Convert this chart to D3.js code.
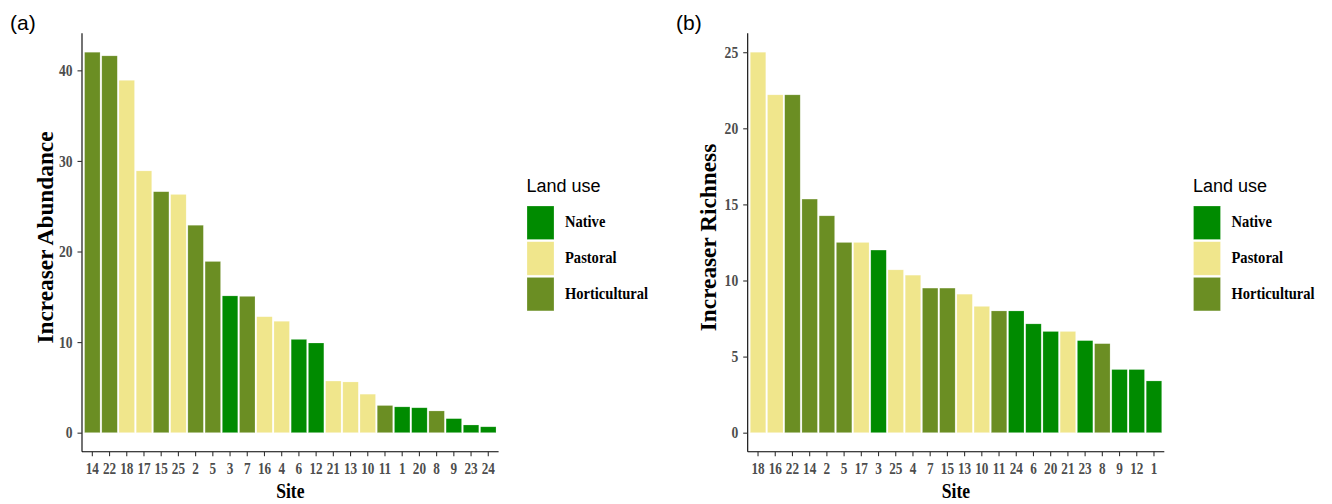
<!DOCTYPE html>
<html>
<head>
<meta charset="utf-8">
<script src="https://cdn.jsdelivr.net/npm/d3@7"></script>
<style>
  html, body { margin: 0; padding: 0; background: #fff; }
  svg { display: block; }
</style>
</head>
<body>
<svg id="chart" width="1332" height="504"></svg>
<script>
// Land use of each sampling site
const siteIds     = ["1","2","3","4","5","6","7","8","9","10","11","12","13","14","15","16","17","18","20","21","22","23","24","25"];
const siteLandUse = ["Native","Horticultural","Native","Pastoral","Horticultural","Native","Horticultural","Horticultural","Native","Pastoral","Horticultural","Native","Pastoral","Horticultural","Horticultural","Pastoral","Pastoral","Pastoral","Native","Pastoral","Horticultural","Native","Native","Pastoral"];

// Panel (a): increaser abundance, sites sorted by value
const sitesA    = ["14","22","18","17","15","25","2","5","3","7","16","4","6","12","21","13","10","11","1","20","8","9","23","24"];
const abundance = [42.0, 41.6, 38.9, 28.9, 26.6, 26.3, 22.9, 18.9, 15.1, 15.05, 12.8, 12.3, 10.3, 9.9, 5.7, 5.6, 4.25, 3.0, 2.85, 2.75, 2.4, 1.55, 0.85, 0.65];
const ticksA    = [0, 10, 20, 30, 40];

// Panel (b): increaser richness, sites sorted by value
const sitesB    = ["18","16","22","14","2","5","17","3","25","4","7","15","13","10","11","24","6","20","21","23","8","9","12","1"];
const richness  = [25.0, 22.2, 22.2, 15.35, 14.25, 12.5, 12.5, 12.0, 10.7, 10.35, 9.5, 9.5, 9.1, 8.3, 8.0, 8.0, 7.15, 6.65, 6.65, 6.05, 5.85, 4.15, 4.15, 3.4];
const ticksB    = [0, 5, 10, 15, 20, 25];

const landUses  = ["Native", "Pastoral", "Horticultural"];
const landColors = ["#008B00", "#F0E68C", "#6B8E23"];

const landOf = new Map(siteIds.map((s, i) => [s, siteLandUse[i]]));
const color = d3.scaleOrdinal().domain(landUses).range(landColors);

const svg = d3.select("#chart");
const SERIF = "'Liberation Serif', 'Times New Roman', serif";
const SANS = "'Liberation Sans', Arial, sans-serif";

// bold serif label, optionally condensed horizontally and rotated
function serifText(g, x, y, str, opts) {
  const sx = opts.sx == null ? 0.8 : opts.sx;
  return g.append("text")
    .attr("transform", `translate(${x},${y}) scale(${sx},1)` + (opts.rotate ? ` rotate(${opts.rotate})` : ""))
    .attr("font-family", SERIF)
    .attr("font-weight", "bold")
    .attr("font-size", opts.size)
    .attr("fill", opts.fill || "#000")
    .attr("text-anchor", opts.anchor || "start")
    .text(str);
}

function drawPanel(cfg) {
  const { left, right, top, bottom, sites, values, ticks, yTitle, tag, tagX, legendX } = cfg;
  const g = svg.append("g");
  const maxV = d3.max(values);
  const pad = maxV * 0.05;

  const x = d3.scaleBand().domain(sites).range([left, right]).paddingInner(0.1).paddingOuter(0.15);
  const y = d3.scaleLinear().domain([-pad, maxV + pad]).range([bottom, top]);

  // bars
  g.selectAll("rect.bar").data(sites).join("rect")
    .attr("class", "bar")
    .attr("x", d => x(d))
    .attr("width", x.bandwidth())
    .attr("y", (d, i) => y(values[i]))
    .attr("height", (d, i) => y(0) - y(values[i]))
    .attr("fill", d => color(landOf.get(d)))
    .attr("stroke", "#ffffff")
    .attr("stroke-opacity", 0.35)
    .attr("stroke-width", 0.6);

  // y axis
  const yAxis = g.append("g").attr("transform", `translate(${left},0)`)
    .call(d3.axisLeft(y).tickValues(ticks).tickSize(4.5).tickFormat(""));
  yAxis.select(".domain").attr("stroke", "#000").attr("stroke-width", 1.1)
    .attr("d", `M0,${top}V${bottom}`);
  yAxis.selectAll(".tick line").attr("stroke", "#333").attr("stroke-width", 1.1);
  ticks.forEach(t => serifText(g, left - 9.5, y(t) + 5.8, String(t), { size: 17, fill: "#4D4D4D", anchor: "end" }));

  // x axis
  const xAxis = g.append("g").attr("transform", `translate(0,${bottom})`)
    .call(d3.axisBottom(x).tickSize(4.5).tickFormat(""));
  xAxis.select(".domain").attr("stroke", "#000").attr("stroke-width", 1.1)
    .attr("d", `M${left},0H${right}`);
  xAxis.selectAll(".tick line").attr("stroke", "#333").attr("stroke-width", 1.1);
  sites.forEach(s => serifText(g, x(s) + x.bandwidth() / 2, bottom + 22.2, s, { size: 16.5, fill: "#4D4D4D", anchor: "middle" }));

  // axis titles
  serifText(g, (left + right) / 2, 498, "Site", { size: 22, anchor: "middle" });
  serifText(g, cfg.yTitleX, 237.5, yTitle, { size: 23.3, anchor: "middle", rotate: -90, sx: 1 });

  // panel tag
  g.append("text").attr("x", tagX).attr("y", 30)
    .attr("font-family", SANS).attr("font-size", 21).attr("fill", "#000").text(tag);

  // legend
  const lg = g.append("g").attr("transform", `translate(${legendX},0)`);
  lg.append("text").attr("x", 0).attr("y", 191.5)
    .attr("font-family", SANS).attr("font-size", 18).attr("fill", "#000").text("Land use");
  landUses.forEach((lu, i) => {
    const ky = 206 + i * 35.7;
    lg.append("rect").attr("x", 0.5).attr("y", ky).attr("width", 27).attr("height", 33.5)
      .attr("fill", color(lu)).attr("stroke", "#fff").attr("stroke-opacity", 0.4).attr("stroke-width", 0.6);
    serifText(lg, 38.5, ky + 21.3, lu, { size: 17.5, sx: 0.83 });
  });
}

drawPanel({
  left: 82, right: 498.6, top: 33.2, bottom: 451.7,
  sites: sitesA, values: abundance, ticks: ticksA,
  yTitle: "Increaser Abundance", yTitleX: 52.5, tag: "(a)", tagX: 10, legendX: 526.5
});

drawPanel({
  left: 747.7, right: 1164.3, top: 33.2, bottom: 451.7,
  sites: sitesB, values: richness, ticks: ticksB,
  yTitle: "Increaser Richness", yTitleX: 716, tag: "(b)", tagX: 676, legendX: 1193
});
</script>
</body>
</html>
